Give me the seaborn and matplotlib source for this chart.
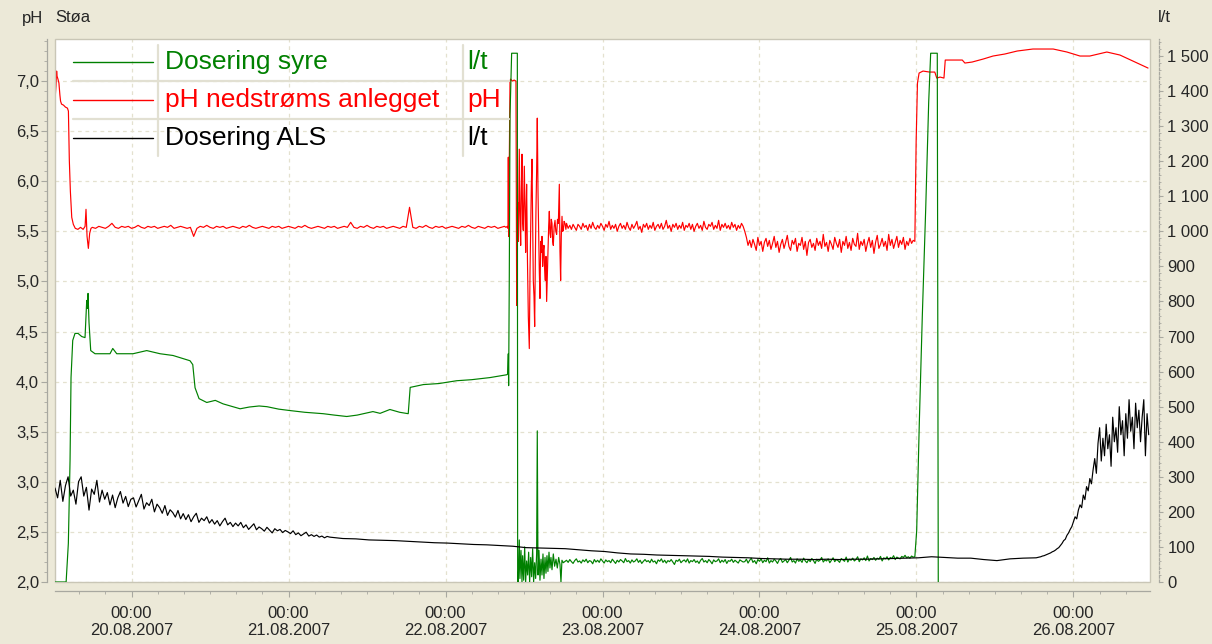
import numpy as np
import pandas as pd
import matplotlib
matplotlib.use("Agg")
import matplotlib.pyplot as plt
import seaborn as sns
from matplotlib.lines import Line2D
from matplotlib.patches import Rectangle
from matplotlib.ticker import MultipleLocator, FixedLocator, FuncFormatter

# Time axis: hours counted from 20.08.2007 00:00
day_labels = ["20.08.2007", "21.08.2007", "22.08.2007", "23.08.2007",
              "24.08.2007", "25.08.2007", "26.08.2007"]
x_start, x_end = -11.7, 155.7

series_names = ["Dosering syre", "pH nedstrøms anlegget", "Dosering ALS"]
series_units = ["l/t", "pH", "l/t"]
series_colors = ["#008000", "#ff0000", "#000000"]

# ---------------- pH nedstrøms anlegget (pH, left axis) ----------------
ph_start = [(-11.69, 6.82), (-11.55, 6.95), (-11.45, 7.10), (-11.39, 7.05), (-11.25, 7.02),
            (-11.10, 6.98), (-10.95, 6.86), (-10.85, 6.80), (-10.70, 6.77), (-10.40, 6.76),
            (-10.10, 6.74), (-9.80, 6.73), (-9.65, 6.70), (-9.51, 6.21), (-9.35, 5.90),
            (-9.14, 5.64), (-8.90, 5.57), (-8.60, 5.53), (-8.20, 5.52), (-7.80, 5.54),
            (-7.40, 5.52), (-7.10, 5.55), (-6.96, 5.72), (-6.80, 5.45), (-6.60, 5.33),
            (-6.40, 5.48), (-6.20, 5.53)]
# logged every 0.5 h from -6.0 h
ph_flat_t0, ph_flat_dt = -6.0, 0.5
ph_flat = [5.54, 5.53, 5.55, 5.54, 5.53, 5.55, 5.58, 5.54, 5.53, 5.55,
           5.54, 5.55, 5.53, 5.54, 5.56, 5.54, 5.53, 5.55, 5.54, 5.55,
           5.53, 5.54, 5.55, 5.54, 5.56, 5.53, 5.54, 5.55, 5.54, 5.53,
           5.54, 5.45, 5.53, 5.55, 5.54, 5.56, 5.54, 5.53, 5.55, 5.54,
           5.55, 5.53, 5.54, 5.55, 5.54, 5.53, 5.55, 5.54, 5.56, 5.54,
           5.53, 5.54, 5.55, 5.54, 5.53, 5.55, 5.54, 5.55, 5.53, 5.54,
           5.55, 5.54, 5.53, 5.55, 5.54, 5.56, 5.54, 5.53, 5.54, 5.55,
           5.54, 5.53, 5.55, 5.54, 5.55, 5.53, 5.54, 5.55, 5.54, 5.59,
           5.54, 5.53, 5.55, 5.54, 5.56, 5.54, 5.53, 5.55, 5.54, 5.55,
           5.53, 5.54, 5.55, 5.54, 5.53, 5.55, 5.54, 5.74, 5.54, 5.53,
           5.55, 5.54, 5.56, 5.54, 5.53, 5.55, 5.54, 5.55, 5.53, 5.54,
           5.55, 5.54, 5.53, 5.55, 5.54, 5.56, 5.54, 5.53, 5.55, 5.54,
           5.53, 5.55, 5.54, 5.55, 5.53, 5.54, 5.55]
ph_spike = [(57.25, 5.54), (57.45, 5.55), (57.55, 5.53), (57.60, 6.24), (57.65, 5.45),
            (57.70, 5.80), (57.78, 6.30), (57.86, 7.00), (57.96, 7.02), (58.20, 7.00),
            (58.50, 7.01), (58.77, 7.00), (58.88, 4.76), (58.95, 5.50), (59.03, 5.79),
            (59.15, 5.40), (59.28, 6.32), (59.38, 5.70), (59.49, 5.36), (59.59, 5.90),
            (59.69, 6.27), (59.79, 5.60), (59.89, 5.51), (59.97, 5.85), (60.05, 6.15),
            (60.15, 5.70), (60.25, 5.29), (60.32, 5.65), (60.40, 5.97), (60.53, 5.20),
            (60.66, 4.65), (60.81, 4.33), (60.92, 5.10), (61.02, 5.51), (61.12, 5.95),
            (61.22, 6.22), (61.32, 5.60), (61.42, 5.01), (61.53, 4.85), (61.63, 4.55),
            (61.73, 5.20), (61.83, 5.72), (61.93, 6.10), (62.03, 6.63), (62.14, 5.90),
            (62.24, 5.51), (62.34, 5.10), (62.44, 4.83), (62.55, 5.40), (62.65, 5.29),
            (62.75, 5.45), (62.85, 5.15), (62.95, 5.30), (63.05, 5.36), (63.15, 5.12),
            (63.26, 5.01), (63.36, 5.25), (63.46, 4.80), (63.56, 5.05), (63.66, 5.29),
            (63.77, 5.55), (63.87, 5.70), (63.97, 5.48), (64.07, 5.44), (64.17, 5.62),
            (64.28, 5.58), (64.38, 5.40), (64.48, 5.36), (64.61, 5.55), (64.74, 5.61),
            (64.86, 5.50), (64.99, 5.47), (65.12, 5.62), (65.25, 5.58), (65.33, 5.80),
            (65.40, 5.97), (65.50, 5.30), (65.60, 5.01), (65.70, 5.45), (65.81, 5.65),
            (65.91, 5.50), (66.01, 5.51), (66.13, 5.60), (66.26, 5.58), (66.40, 5.52)]
# logged every 0.25 h from 66.5 h
ph_noisy_t0, ph_noisy_dt = 66.5, 0.25
ph_noisy = [5.58, 5.53, 5.56, 5.52, 5.57, 5.54, 5.51, 5.57, 5.55, 5.52,
            5.58, 5.54, 5.56, 5.51, 5.57, 5.53, 5.59, 5.54, 5.52, 5.56,
            5.53, 5.58, 5.55, 5.51, 5.57, 5.54, 5.60, 5.52, 5.56, 5.53,
            5.57, 5.50, 5.55, 5.58, 5.53, 5.56, 5.52, 5.59, 5.54, 5.51,
            5.57, 5.53, 5.56, 5.60, 5.52, 5.55, 5.49, 5.57, 5.54, 5.58,
            5.52, 5.56, 5.53, 5.59, 5.51, 5.55, 5.57, 5.53, 5.58, 5.52,
            5.55, 5.61, 5.53, 5.56, 5.50, 5.57, 5.54, 5.58, 5.52, 5.56,
            5.53, 5.59, 5.51, 5.56, 5.54, 5.58, 5.52, 5.57, 5.50, 5.55,
            5.58, 5.53, 5.56, 5.51, 5.60, 5.54, 5.52, 5.57, 5.55, 5.59,
            5.52, 5.56, 5.53, 5.61, 5.51, 5.57, 5.54, 5.58, 5.53, 5.56,
            5.52, 5.59, 5.54, 5.57, 5.51, 5.56, 5.53, 5.58, 5.55,
            5.50, 5.44, 5.36, 5.41,
            5.34, 5.42, 5.37, 5.31, 5.44, 5.36, 5.40, 5.30, 5.39, 5.43,
            5.35, 5.41, 5.32, 5.38, 5.45, 5.34, 5.40, 5.29, 5.37, 5.42,
            5.33, 5.39, 5.46, 5.35, 5.31, 5.41, 5.37, 5.43, 5.30, 5.38,
            5.36, 5.44, 5.32, 5.40, 5.26, 5.39, 5.42, 5.34, 5.38, 5.31,
            5.43, 5.36, 5.40, 5.33, 5.47, 5.35, 5.39, 5.30, 5.41, 5.37,
            5.32, 5.44, 5.38, 5.34, 5.42, 5.29, 5.40, 5.36, 5.45, 5.33,
            5.39, 5.31, 5.43, 5.37, 5.35, 5.48, 5.32, 5.40, 5.36, 5.42,
            5.30, 5.38, 5.44, 5.34, 5.41, 5.28, 5.39, 5.46, 5.33, 5.37,
            5.43, 5.35, 5.40, 5.31, 5.47, 5.36, 5.42, 5.33, 5.39, 5.45,
            5.34, 5.41, 5.37, 5.44, 5.32, 5.40, 5.36, 5.43, 5.38, 5.41]
ph_high = [(119.75, 5.40), (119.95, 6.40), (120.15, 6.98), (120.40, 7.08), (121.00, 7.10),
           (122.00, 7.09), (122.80, 7.09), (123.10, 7.03), (123.60, 7.04), (124.20, 7.03),
           (124.40, 7.21), (125.50, 7.21), (127.00, 7.21), (127.40, 7.18), (128.50, 7.19),
           (130.20, 7.22), (131.70, 7.25), (133.50, 7.27), (135.40, 7.30), (137.80, 7.32),
           (140.90, 7.32), (143.00, 7.29), (145.00, 7.25), (146.50, 7.25), (149.10, 7.29),
           (151.10, 7.26), (153.10, 7.20), (155.40, 7.13)]

# ---------------- Dosering syre (l/t, right axis) ----------------
syre_start = [(-11.69, 0), (-10.00, 0), (-9.66, 110), (-9.40, 346), (-9.25, 583),
              (-8.99, 689), (-8.64, 709), (-8.18, 709), (-7.61, 700), (-7.11, 697),
              (-6.85, 803), (-6.75, 780), (-6.65, 823), (-6.50, 740), (-6.24, 660),
              (-5.58, 651), (-3.29, 651), (-2.87, 666), (-2.26, 651), (0.23, 651),
              (2.32, 660), (4.36, 651), (6.34, 646), (8.94, 631), (9.36, 620),
              (9.71, 554), (10.32, 523)]
syre_mid = [(11.5, 512), (12.8, 518), (14.0, 508), (15.5, 500), (16.6, 494), (18.0, 499),
            (19.5, 502), (20.7, 500), (22.5, 493), (24.2, 489), (26.5, 484), (29.3, 480),
            (31.0, 476), (32.9, 472), (34.5, 476), (36.9, 486), (38.0, 481), (39.5, 492),
            (41.0, 484), (42.3, 480), (42.6, 555), (44.6, 563), (47.0, 566), (49.7, 574),
            (52.0, 577), (54.8, 583), (57.35, 591)]
syre_spike = [(57.50, 593), (57.60, 651), (57.65, 560), (57.75, 870), (57.86, 1330),
              (58.11, 1508), (58.98, 1508), (59.03, 0), (59.13, 0), (59.28, 120),
              (59.38, 10), (59.54, 90), (59.69, 0), (59.79, 75), (59.95, 5), (60.10, 100),
              (60.25, 0), (60.40, 60), (60.56, 20), (60.71, 85), (60.86, 0), (61.02, 70),
              (61.17, 15), (61.32, 95), (61.47, 0), (61.63, 55), (61.78, 10), (61.93, 80),
              (62.03, 431), (62.14, 20), (62.29, 90), (62.44, 5), (62.60, 65), (62.75, 20),
              (62.90, 80), (63.05, 10), (63.21, 70), (63.36, 25), (63.51, 75), (63.66, 30),
              (63.82, 85), (63.97, 40), (64.12, 70), (64.28, 35), (64.48, 80), (64.68, 45),
              (64.89, 65), (65.09, 40), (65.30, 70), (65.50, 50), (65.65, 0), (65.80, 62),
              (66.01, 55)]
# logged every 0.25 h from 66.5 h
syre_low_t0, syre_low_dt = 66.5, 0.25
syre_low = [62, 56, 64, 58, 53, 61, 66, 57, 60, 54,
            63, 58, 65, 55, 61, 59, 52, 64, 57, 62,
            56, 66, 60, 54, 63, 58, 61, 55, 65, 59,
            53, 62, 57, 64, 60, 55, 67, 58, 61, 54,
            63, 57, 60, 66, 56, 62, 53, 59, 64, 58,
            61, 55, 65, 57, 60, 52, 63, 59, 66, 56,
            62, 54, 61, 58, 64, 57, 50, 62, 59, 65,
            55, 60, 63, 57, 66, 54, 61, 58, 64, 56,
            60, 53, 62, 67, 57, 61, 55, 64, 59, 52,
            63, 58, 60, 66, 55, 62, 57, 64, 53, 61,
            59, 65, 56, 62, 58, 54, 63, 60, 57,
            58, 65, 54, 62, 68, 56, 61, 52, 64, 59,
            66, 55, 62, 58, 69, 54, 61, 57, 65, 60,
            53, 63, 67, 56, 60, 64, 55, 62, 70, 57,
            61, 54, 66, 59, 63, 56, 68, 60, 55, 64,
            58, 67, 61, 53, 65, 59, 62, 70, 57, 63,
            60, 66, 55, 62, 69, 58, 64, 61, 56, 67,
            63, 59, 71, 57, 65, 62, 68, 60, 64, 72,
            58, 66, 63, 69, 61, 74, 60, 67, 64, 70,
            62, 68, 65, 73, 60, 69, 66, 72, 63, 70,
            67, 75, 64, 71, 68, 66, 73, 70, 76, 69,
            72, 68, 74, 71]
syre_end = [(119.75, 72), (120.03, 146), (120.43, 452), (120.89, 758), (121.41, 1064),
            (121.87, 1370), (122.17, 1508), (123.18, 1508), (123.33, 0)]

# ---------------- Dosering ALS (l/t, right axis) ----------------
als_early_t0, als_early_dt = -11.7, 0.4
als_early = [268, 240, 290, 230, 275, 300, 245, 262, 222, 286,
             300, 245, 270, 205, 265, 250, 290, 228, 262, 236,
             255, 220, 248, 212, 240, 258, 225, 244, 215, 236,
             240, 214, 232, 250, 208, 226, 218, 236, 200, 222,
             212, 196, 218, 190, 206, 198, 185, 204, 180, 195,
             178, 192, 172, 186, 196, 170, 182, 175, 186, 168,
             178, 165, 175, 160, 172, 182, 163, 170, 158, 168,
             160, 170, 155, 163, 150, 158, 166, 149, 157, 152,
             145, 156, 148, 140, 152, 146, 150, 141, 147, 143,
             138, 146, 135, 140, 132, 137, 142, 131, 135, 130,
             134, 128, 131, 126, 130]
als_mid_t0, als_mid_dt = 30.3, 2.0
als_mid = [128, 124, 123, 120, 119, 118, 116, 114, 112, 111,
           109, 107, 106, 104, 102, 98, 97, 96, 95, 92,
           89, 87, 83, 80, 79, 77, 76, 75, 74, 73,
           71, 70, 69, 67, 66, 65, 65, 64, 65, 64,
           65, 65, 66, 67, 68, 69, 72, 70, 68, 68,
           64, 61, 66, 68, 69]
als_late_t0, als_late_dt = 138.5, 0.25
als_late = [70, 71, 72, 74, 75, 77, 79,
            81, 83, 86, 88, 91, 95, 98,
            104, 110, 118, 122, 133, 140, 150,
            158, 172, 186, 180, 205, 220, 212,
            248, 235, 272, 260, 295, 280, 320,
            352, 310, 395, 440, 345, 410, 360,
            450, 380, 420, 330, 470, 400, 440,
            370, 500, 420, 460, 360, 480, 410,
            520, 430, 470, 380, 510, 440, 490,
            400, 470, 520, 360, 480, 420]


def from_pairs(seq):
    arr = np.asarray(seq, dtype=float)
    return arr[:, 0], arr[:, 1]


def from_log(t0, dt, values):
    vals = np.asarray(values, dtype=float)
    return t0 + dt * np.arange(len(vals)), vals


def build(parts):
    hours = np.concatenate([p[0] for p in parts])
    vals = np.concatenate([p[1] for p in parts])
    return pd.DataFrame({"hour": hours, "value": vals})


ph_df = build([from_pairs(ph_start), from_log(ph_flat_t0, ph_flat_dt, ph_flat),
               from_pairs(ph_spike), from_log(ph_noisy_t0, ph_noisy_dt, ph_noisy),
               from_pairs(ph_high)])
syre_df = build([from_pairs(syre_start), from_pairs(syre_mid), from_pairs(syre_spike),
                 from_log(syre_low_t0, syre_low_dt, syre_low), from_pairs(syre_end)])
als_df = build([from_log(als_early_t0, als_early_dt, als_early),
                from_log(als_mid_t0, als_mid_dt, als_mid),
                from_log(als_late_t0, als_late_dt, als_late)])

# ---------------- figure ----------------
sns.set_style("white")
plt.rcParams["font.family"] = ["Liberation Sans", "DejaVu Sans"]

W, H = 1212, 644
bg = "#ECE9D8"
axis_grey = "#a8a8a0"
fig = plt.figure(figsize=(W / 100, H / 100), dpi=100, facecolor=bg)


def fx(px):
    return px / W


def fy(py):
    return 1 - py / H


ax = fig.add_axes([fx(55), fy(582), fx(1150) - fx(55), fy(39) - fy(582)])
ax.set_facecolor("white")
ax2 = ax.twinx()

lw = 0.85
sns.lineplot(data=ph_df, x="hour", y="value", ax=ax, color=series_colors[1], lw=lw,
             estimator=None, sort=False)
sns.lineplot(data=syre_df, x="hour", y="value", ax=ax2, color=series_colors[0], lw=lw,
             estimator=None, sort=False)
sns.lineplot(data=als_df, x="hour", y="value", ax=ax2, color=series_colors[2], lw=lw,
             estimator=None, sort=False)

ax.set_xlim(x_start, x_end)
ax.set_ylim(2.0, 7.42)
ax2.set_ylim(0, 1548.6)
for a in (ax, ax2):
    a.set_xlabel("")
    a.set_ylabel("")

# grid
ax.grid(True, which="major", color="#e4e1cf", linestyle=(0, (3, 3)), lw=0.9)
ax.set_axisbelow(True)

# x ticks: midnight of each day, minor every 4 h
day_hours = [24 * i for i in range(len(day_labels))]
ax.xaxis.set_major_locator(FixedLocator(day_hours))
ax.set_xticklabels([f"00:00\n{d}" for d in day_labels], linespacing=1.45)
ax.xaxis.set_minor_locator(MultipleLocator(4))

# left axis
ax.yaxis.set_major_locator(MultipleLocator(0.5))
ax.yaxis.set_minor_locator(MultipleLocator(0.1))
ax.yaxis.set_major_formatter(FuncFormatter(lambda v, _: f"{v:.1f}".replace(".", ",")))

# right axis
ax2.yaxis.set_major_locator(MultipleLocator(100))
ax2.yaxis.set_minor_locator(MultipleLocator(20))
ax2.yaxis.set_major_formatter(FuncFormatter(lambda v, _: f"{int(round(v)):,}".replace(",", " ")))

for s in ("top", "right"):
    ax.spines[s].set_visible(False)
for s in ("top", "left", "bottom"):
    ax2.spines[s].set_visible(False)
ax.spines["left"].set_position(("outward", 5.5))
ax.spines["bottom"].set_position(("outward", 6.3))
ax2.spines["right"].set_position(("outward", 6.5))
for sp in (ax.spines["left"], ax.spines["bottom"], ax2.spines["right"]):
    sp.set_color(axis_grey)
    sp.set_linewidth(0.9)
ax2.spines["right"].set_linestyle((0, (2, 1.5)))

ax.tick_params(axis="y", which="major", direction="out", length=4, width=0.8,
               color=axis_grey, labelsize=12, pad=2, left=True)
ax.tick_params(axis="y", which="minor", direction="out", length=2, width=0.6,
               color=axis_grey, left=True)
ax.tick_params(axis="x", which="major", direction="out", length=4, width=0.8,
               color=axis_grey, labelsize=12, pad=7, bottom=True)
ax.tick_params(axis="x", which="minor", direction="out", length=2.5, width=0.6,
               color=axis_grey, bottom=True)
ax2.tick_params(axis="y", which="major", direction="out", length=3, width=0.8,
                color=axis_grey, labelsize=12, pad=3, right=True)
ax2.tick_params(axis="y", which="minor", direction="out", length=1.5, width=0.6,
                color=axis_grey, right=True)

# frame round the plotting area
ax.add_patch(Rectangle((0, 0), 1, 1, transform=ax.transAxes, fill=False,
                       edgecolor="#c9c6b6", lw=1.0, clip_on=False, zorder=5))

# axis captions
fig.text(fx(33), fy(18), "pH", ha="center", va="center", fontsize=12)
fig.text(fx(55), fy(18), "Støa", ha="left", va="center", fontsize=12)
fig.text(fx(1164), fy(18), "l/t", ha="center", va="center", fontsize=12)

# legend table
row_y = [62, 100, 138]
sep = "#e2e0d2"
for py in (81, 119):
    fig.add_artist(Line2D([fx(73), fx(509)], [fy(py), fy(py)], color=sep, lw=1.6))
for px in (158, 463):
    fig.add_artist(Line2D([fx(px), fx(px)], [fy(45), fy(156)], color=sep, lw=1.6))
for name, unit, col, py in zip(series_names, series_units, series_colors, row_y):
    fig.add_artist(Line2D([fx(73), fx(153)], [fy(py), fy(py)], color=col, lw=1.0))
    fig.text(fx(165), fy(py), name, color=col, fontsize=19, ha="left", va="center")
    fig.text(fx(467), fy(py), unit, color=col, fontsize=19, ha="left", va="center")

fig.savefig("out.png", dpi=100, facecolor=bg)
